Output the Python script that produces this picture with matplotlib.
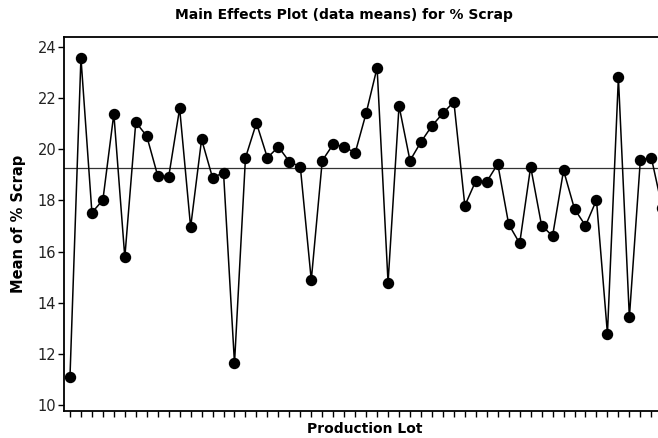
import numpy as np
import matplotlib
matplotlib.use("Agg")
from matplotlib import pyplot as plt

# mean % scrap per production lot
lots = list(range(1, 56))
scrap_means = [11.09, 23.57, 17.52, 18.01, 21.38, 15.77, 21.05, 20.51, 18.96, 18.92,
               21.59, 16.95, 20.38, 18.88, 19.08, 11.63, 19.66, 21.02, 19.66, 20.09,
               19.51, 19.31, 14.88, 19.55, 20.19, 20.09, 19.85, 21.40, 23.18, 14.78,
               21.69, 19.55, 20.28, 20.91, 21.40, 21.85, 17.79, 18.76, 18.73, 19.42,
               17.06, 16.32, 19.31, 17.01, 16.61, 19.17, 17.66, 17.01, 18.01, 12.79,
               22.80, 13.43, 19.57, 19.67, 17.70]
grand_mean = 19.25
y_ticks = [10, 12, 14, 16, 18, 20, 22, 24]

plt.rcParams['font.family'] = ['DejaVu Sans']

fig = plt.figure(figsize=(6.58, 4.38), dpi=100)
ax = fig.add_axes([0.098, 0.0616, 0.914, 0.854])

ax.axhline(grand_mean, color="#333333", lw=0.9, zorder=1)
ax.plot(lots, scrap_means, color="black", lw=1.1, marker="o", ms=7.2,
        markerfacecolor="black", markeredgecolor="black", zorder=2, clip_on=True)

ax.set_xlim(0.5, 55.33)
ax.set_ylim(9.77, 24.38)
ax.set_xticks(lots)
ax.set_xticklabels([])
ax.set_yticks(y_ticks)
ax.tick_params(axis="y", direction="out", length=4, width=1, labelsize=10.5,
               pad=2, labelcolor="#222222")
ax.tick_params(axis="x", direction="out", length=4, width=1)

for s in ["left", "bottom", "top"]:
    ax.spines[s].set_linewidth(1.3)
ax.spines["right"].set_visible(False)

ax.set_xlabel("Production Lot", fontsize=10, fontweight="bold", labelpad=0.5)
ax.set_ylabel("Mean of % Scrap", fontsize=10.5, fontweight="bold", labelpad=8)
fig.text(0.522, 0.965, "Main Effects Plot (data means) for % Scrap",
         ha="center", va="center", fontsize=10, fontweight="bold")

fig.savefig("out.png", dpi=100)
